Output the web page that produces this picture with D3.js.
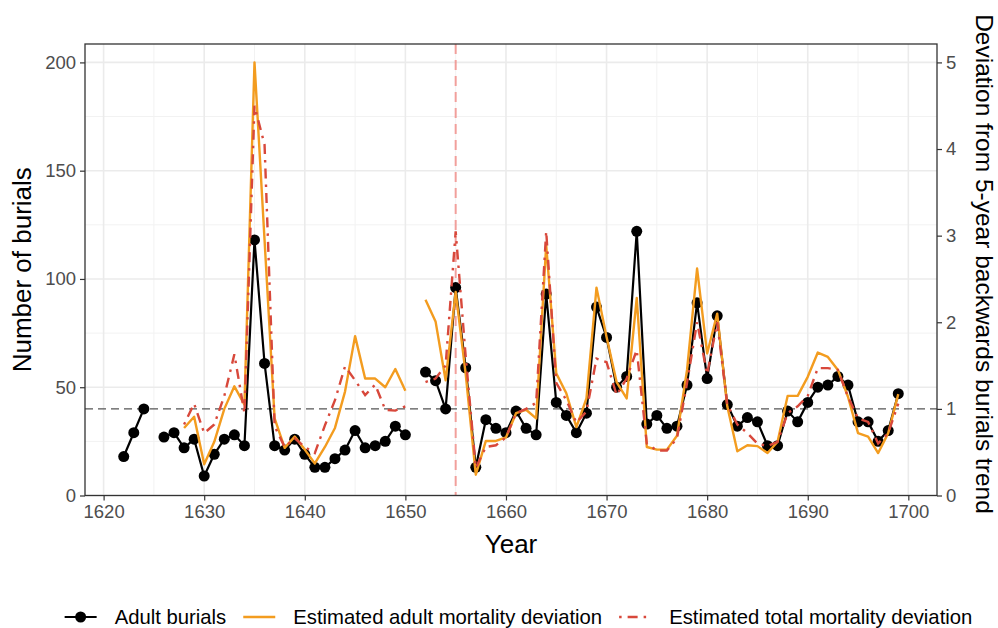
<!DOCTYPE html>
<html>
<head>
<meta charset="utf-8">
<script src="https://cdn.jsdelivr.net/npm/d3@7"></script>
<style>
  body { margin: 0; background: #fff; }
  svg text { font-family: "Liberation Sans", Arial, Helvetica, sans-serif; }
</style>
</head>
<body>
<div id="chart"></div>
<script>
// Data
const years = d3.range(1622, 1700);

const adultBurials = [
  18, 29, 40, null, 27, 29, 22, 26, 9, 19, 26, 28, 23, 118, 61, 23, 21, 26, 19, 13,
  13, 17, 21, 30, 22, 23, 25, 32, 28, null, 57, 53, 40, 96, 59, 13, 35, 31, 29, 39,
  31, 28, 93, 43, 37, 29, 38, 87, 73, 50, 55, 122, 33, 37, 31, 32, 51, 89, 54, 83,
  42, 32, 36, 34, 23, 23, 39, 34, 43, 50, 51, 55, 51, 34, 34, 25, 30, 47
];

// 1622..1627 have no deviation estimate
const adultDeviation = [
  null, null, null, null, null, null,
  0.78, 0.91, 0.36, 0.62, 1.0, 1.26, 1.05, 5.0, 2.95, 0.89, 0.55, 0.68, 0.53, 0.37,
  0.56, 0.78, 1.2, 1.84, 1.35, 1.35, 1.25, 1.46, 1.21, null, 2.26, 2.01, 1.33, 2.35,
  1.4, 0.24, 0.63, 0.63, 0.67, 0.95, 0.99, 0.89, 2.89, 1.41, 1.18, 0.79, 1.12, 2.4,
  1.83, 1.31, 1.12, 2.28, 0.56, 0.53, 0.53, 0.69, 1.45, 2.62, 1.64, 2.1, 1.03, 0.51,
  0.58, 0.57, 0.49, 0.62, 1.15, 1.15, 1.37, 1.65, 1.6, 1.45, 1.14, 0.72, 0.68, 0.49,
  0.72, 1.17
];

const totalDeviation = [
  null, null, null, null, null, null,
  0.82, 1.06, 0.72, 0.82, 1.15, 1.63, 0.95, 4.5, 4.05, 0.8, 0.56, 0.66, 0.56, 0.49,
  0.81, 1.1, 1.49, 1.33, 1.16, 1.28, 0.99, 0.98, 1.03, null, 1.31, 1.35, 1.5, 3.05,
  1.6, 0.32, 0.56, 0.58, 0.67, 0.95, 1.0, 1.07, 3.05, 1.3, 1.1, 0.84, 0.97, 1.58,
  1.54, 1.16, 1.35, 1.68, 0.6, 0.52, 0.52, 0.66, 1.3, 2.0, 1.4, 2.0, 1.05, 0.82,
  0.72, 0.6, 0.57, 0.62, 0.95, 1.03, 1.15, 1.47, 1.47, 1.45, 1.14, 0.89, 0.85, 0.6,
  0.72, 1.06
];

const xTicks = [1620, 1630, 1640, 1650, 1660, 1670, 1680, 1690, 1700];
const xMinorTicks = [1625, 1635, 1645, 1655, 1665, 1675, 1685, 1695];
const yTicks = [0, 50, 100, 150, 200];
const yMinorTicks = [25, 75, 125, 175];
const yRightTicks = [0, 1, 2, 3, 4, 5];

const markerYear = 1655;
const baselineDeviation = 1;
const deviationScale = 40; // 1 on the right axis = 40 burials

const legendItems = [
  { label: "Adult burials", type: "points" },
  { label: "Estimated adult mortality deviation", type: "adult" },
  { label: "Estimated total mortality deviation", type: "total" }
];

const COLOR_BURIALS = "#000000";
const COLOR_ADULT = "#F39C1F";
const COLOR_TOTAL = "#D8483B";
const TOTAL_DASH = "2.5,6,10,6";

const width = 998;
const height = 628;
const panel = { left: 85, right: 937, top: 44, bottom: 495.5 };

const svg = d3.select("#chart")
  .append("svg")
  .attr("width", width)
  .attr("height", height);

const x = d3.scaleLinear()
  .domain([1618.15, 1702.85])
  .range([panel.left, panel.right]);

const y = d3.scaleLinear()
  .domain([0, 208.5])
  .range([panel.bottom, panel.top]);

const yRight = d3.scaleLinear()
  .domain([0, 208.5 / deviationScale])
  .range([panel.bottom, panel.top]);

// grid
const grid = svg.append("g");
grid.selectAll(".minor-x").data(xMinorTicks).enter().append("line")
  .attr("x1", d => x(d)).attr("x2", d => x(d))
  .attr("y1", panel.top).attr("y2", panel.bottom)
  .attr("stroke", "#F2F2F2").attr("stroke-width", 1);
grid.selectAll(".minor-y").data(yMinorTicks).enter().append("line")
  .attr("x1", panel.left).attr("x2", panel.right)
  .attr("y1", d => y(d)).attr("y2", d => y(d))
  .attr("stroke", "#F2F2F2").attr("stroke-width", 1);
grid.selectAll(".major-x").data(xTicks).enter().append("line")
  .attr("x1", d => x(d)).attr("x2", d => x(d))
  .attr("y1", panel.top).attr("y2", panel.bottom)
  .attr("stroke", "#EBEBEB").attr("stroke-width", 1.6);
grid.selectAll(".major-y").data(yTicks).enter().append("line")
  .attr("x1", panel.left).attr("x2", panel.right)
  .attr("y1", d => y(d)).attr("y2", d => y(d))
  .attr("stroke", "#EBEBEB").attr("stroke-width", 1.6);

// reference lines
svg.append("line")
  .attr("x1", panel.left).attr("x2", panel.right)
  .attr("y1", yRight(baselineDeviation)).attr("y2", yRight(baselineDeviation))
  .attr("stroke", "#555").attr("stroke-width", 1.1)
  .attr("stroke-dasharray", "8,5");

svg.append("line")
  .attr("x1", x(markerYear)).attr("x2", x(markerYear))
  .attr("y1", panel.top).attr("y2", panel.bottom)
  .attr("stroke", "#F08A84").attr("stroke-opacity", 0.8)
  .attr("stroke-width", 2)
  .attr("stroke-dasharray", "10,6");

const burialData = years.map((yr, i) => ({ year: yr, value: adultBurials[i] }));
const adultData = years.map((yr, i) => ({ year: yr, value: adultDeviation[i] }));
const totalData = years.map((yr, i) => ({ year: yr, value: totalDeviation[i] }));

const burialLine = d3.line()
  .defined(d => d.value != null)
  .x(d => x(d.year))
  .y(d => y(d.value));

const deviationLine = d3.line()
  .defined(d => d.value != null)
  .x(d => x(d.year))
  .y(d => yRight(d.value));

svg.append("path")
  .datum(burialData)
  .attr("d", burialLine)
  .attr("fill", "none")
  .attr("stroke", COLOR_BURIALS)
  .attr("stroke-width", 2.2);

svg.selectAll(".pt")
  .data(burialData.filter(d => d.value != null))
  .enter()
  .append("circle")
  .attr("cx", d => x(d.year))
  .attr("cy", d => y(d.value))
  .attr("r", 5.5)
  .attr("fill", COLOR_BURIALS);

svg.append("path")
  .datum(adultData)
  .attr("d", deviationLine)
  .attr("fill", "none")
  .attr("stroke", COLOR_ADULT)
  .attr("stroke-width", 2.4)
  .attr("stroke-linejoin", "round");

svg.append("path")
  .datum(totalData)
  .attr("d", deviationLine)
  .attr("fill", "none")
  .attr("stroke", COLOR_TOTAL)
  .attr("stroke-width", 2.4)
  .attr("stroke-dasharray", TOTAL_DASH);

// panel border
svg.append("rect")
  .attr("x", panel.left).attr("y", panel.top)
  .attr("width", panel.right - panel.left)
  .attr("height", panel.bottom - panel.top)
  .attr("fill", "none")
  .attr("stroke", "#333")
  .attr("stroke-width", 1.3);

// axes
function styleAxis(g) {
  g.select(".domain").remove();
  g.selectAll(".tick line").attr("stroke", "#333").attr("stroke-width", 1.2);
  g.selectAll(".tick text")
    .attr("fill", "#4D4D4D")
    .style("font-size", "18.5px");
}

svg.append("g")
  .attr("transform", `translate(0,${panel.bottom})`)
  .call(d3.axisBottom(x).tickValues(xTicks).tickFormat(d3.format("d")).tickSize(5).tickPadding(4))
  .call(styleAxis);

svg.append("g")
  .attr("transform", `translate(${panel.left},0)`)
  .call(d3.axisLeft(y).tickValues(yTicks).tickSize(5).tickPadding(4))
  .call(styleAxis);

svg.append("g")
  .attr("transform", `translate(${panel.right},0)`)
  .call(d3.axisRight(yRight).tickValues(yRightTicks).tickFormat(d3.format("d")).tickSize(5).tickPadding(4))
  .call(styleAxis);

// titles
svg.append("text")
  .attr("x", (panel.left + panel.right) / 2)
  .attr("y", 553)
  .attr("text-anchor", "middle")
  .style("font-size", "26px")
  .text("Year");

svg.append("text")
  .attr("transform", `translate(31,${(panel.top + panel.bottom) / 2}) rotate(-90)`)
  .attr("text-anchor", "middle")
  .style("font-size", "26px")
  .text("Number of burials");

svg.append("text")
  .attr("transform", `translate(976,264) rotate(90)`)
  .attr("text-anchor", "middle")
  .style("font-size", "24.5px")
  .text("Deviation from 5-year backwards burials trend");

// legend
const legend = svg.append("g");
const legendY = 617;
let cursor = 0;
legendItems.forEach((item, i) => {
  const g = legend.append("g").attr("transform", `translate(${cursor},0)`);
  if (item.type === "points") {
    g.append("line").attr("x1", 0).attr("x2", 32).attr("y1", legendY).attr("y2", legendY)
      .attr("stroke", COLOR_BURIALS).attr("stroke-width", 2.2);
    g.append("circle").attr("cx", 16).attr("cy", legendY).attr("r", 5.5).attr("fill", COLOR_BURIALS);
  } else {
    g.append("line").attr("x1", 0).attr("x2", 32).attr("y1", legendY).attr("y2", legendY)
      .attr("stroke", item.type === "adult" ? COLOR_ADULT : COLOR_TOTAL)
      .attr("stroke-width", 2.4)
      .attr("stroke-dasharray", item.type === "total" ? TOTAL_DASH : null);
  }
  const t = g.append("text")
    .attr("x", 50)
    .attr("y", legendY)
    .attr("dy", "0.35em")
    .style("font-size", "20.3px")
    .text(item.label);
  cursor += 50 + t.node().getComputedTextLength() + 17;
});
const legendWidth = cursor - 17;
legend.attr("transform", `translate(${518.5 - legendWidth / 2},0)`);
</script>
</body>
</html>
